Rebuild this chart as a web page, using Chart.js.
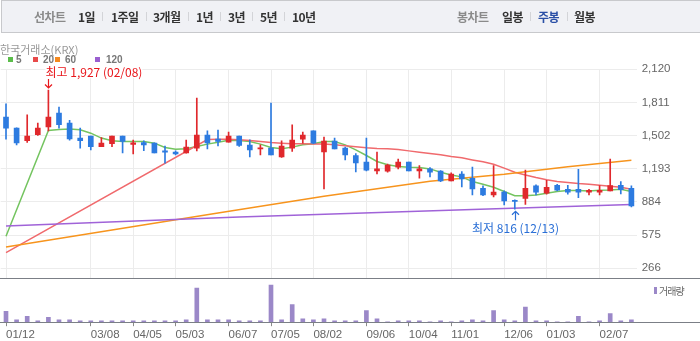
<!DOCTYPE html>
<html><head><meta charset="utf-8">
<script src="https://cdn.jsdelivr.net/npm/chart.js@4.4.0/dist/chart.umd.min.js"></script>
<style>
html,body{margin:0;padding:0;background:#fff;}
body{width:700px;height:341px;position:relative;overflow:hidden;font-family:"Noto Sans CJK KR","Noto Sans",sans-serif;}
#bar{position:absolute;left:1px;top:0;width:699px;height:31px;border:1px solid #c8c9cc;border-right:none;background:#f0f1f5;}
.t{position:absolute;top:0;height:33px;line-height:33px;font-size:12px;font-weight:bold;color:#333;white-space:nowrap;letter-spacing:-0.6px;z-index:3}
.g{color:#8a8a8a}
.b{color:#2a4fa6}
.s{position:absolute;top:12px;width:1px;height:9px;background:#d3d4d8;z-index:3}
#hdr{position:absolute;left:0;top:41px;font-size:11px;line-height:16px;color:#999;z-index:3;white-space:nowrap}
.lg{position:absolute;top:57px;width:5px;height:5px;z-index:3}
.lt{position:absolute;top:53px;line-height:13px;font-family:"Liberation Sans",sans-serif;font-size:10px;font-weight:bold;color:#777;z-index:3}
#pw{position:absolute;left:0;top:0;width:700px;height:280px;z-index:1}
#vw{position:absolute;left:0;top:283px;width:700px;height:61px;z-index:1}
#vl{position:absolute;left:654px;top:287px;width:3px;height:7px;background:#9b88c8;z-index:3}
#vt{position:absolute;left:659px;top:283px;line-height:16px;font-size:10px;color:#666;letter-spacing:-1px;z-index:3}
</style></head>
<body>
<div id="bar"></div>
<div class="t g" style="left:34px">선차트</div>
<div class="t" style="left:78px">1일</div><div class="s" style="left:102px"></div>
<div class="t" style="left:111px">1주일</div><div class="s" style="left:146px"></div>
<div class="t" style="left:153px">3개월</div><div class="s" style="left:188px"></div>
<div class="t" style="left:196px">1년</div><div class="s" style="left:220px"></div>
<div class="t" style="left:228px">3년</div><div class="s" style="left:252px"></div>
<div class="t" style="left:260px">5년</div><div class="s" style="left:284px"></div>
<div class="t" style="left:292px">10년</div>
<div class="t g" style="left:457px">봉차트</div>
<div class="t" style="left:502px">일봉</div><div class="s" style="left:530px"></div>
<div class="t b" style="left:538px">주봉</div><div class="s" style="left:567px"></div>
<div class="t" style="left:574px">월봉</div>
<div id="hdr">한국거래소(KRX)</div>
<div class="lg" style="left:8px;background:#5bbd4a"></div><div class="lt" style="left:16px">5</div>
<div class="lg" style="left:33px;background:#e84a4a"></div><div class="lt" style="left:43px">20</div>
<div class="lg" style="left:55px;background:#f5891f"></div><div class="lt" style="left:65px">60</div>
<div class="lg" style="left:95px;background:#9a5fd0"></div><div class="lt" style="left:106px">120</div>
<div id="pw"><canvas id="pc" width="700" height="280"></canvas></div>
<div id="vw"><canvas id="vc" width="700" height="61"></canvas></div>
<div id="vl"></div><div id="vt">거래량</div>
<script>
const weeks = ["01/12","01/18","01/25","02/01","02/08","02/15","02/22","03/01","03/08","03/15","03/22","03/29","04/05","04/12","04/19","04/26","05/03","05/10","05/17","05/24","05/31","06/07","06/14","06/21","06/28","07/05","07/12","07/19","07/26","08/02","08/09","08/16","08/23","08/30","09/06","09/13","09/20","09/27","10/04","10/11","10/18","10/25","11/01","11/08","11/15","11/22","11/29","12/06","12/13","12/20","12/27","01/03","01/10","01/17","01/24","01/31","02/07","02/14","02/21","02/28"];
const tickLabels = ["01/12","03/08","04/05","05/03","06/07","07/05","08/02","09/06","10/04","11/01","12/06","01/03","02/07"];
const priceTicks = [266, 575, 884, 1193, 1502, 1811, 2120];

const opens  = [1675,1572,1454,1510,1584,1712,1619,1479,1497,1398,1426,1497,1419,1438,1432,1360,1348,1342,1385,1507,1469,1441,1497,1413,1379,1385,1304,1385,1469,1547,1351,1451,1385,1317,1255,1174,1171,1208,1255,1174,1192,1171,1080,1143,1105,1012,950,975,897,918,1034,965,1040,1002,1002,975,975,987,1040,1012];
const highs  = [1799,1575,1696,1619,1927,1768,1644,1572,1497,1485,1497,1497,1460,1454,1435,1404,1360,1460,1852,1547,1553,1535,1497,1463,1416,1805,1454,1603,1535,1547,1488,1479,1395,1335,1479,1348,1236,1283,1255,1223,1205,1177,1155,1167,1208,1034,1223,987,903,1180,1043,1086,1049,1040,1189,1002,1037,1283,1074,1034];
const lows   = [1469,1416,1438,1503,1547,1572,1460,1385,1370,1398,1398,1342,1332,1363,1342,1245,1323,1339,1360,1379,1407,1441,1401,1304,1323,1323,1298,1354,1432,1426,1006,1379,1276,1164,1174,1146,1161,1192,1174,1105,1118,1074,1080,1024,950,943,931,856,816,862,950,956,987,956,925,950,950,987,959,837];
const closes = [1572,1435,1497,1572,1675,1603,1472,1454,1398,1432,1497,1447,1435,1416,1342,1348,1332,1395,1507,1435,1447,1497,1410,1370,1385,1323,1404,1460,1507,1432,1451,1379,1323,1248,1180,1192,1227,1255,1174,1192,1161,1080,1143,1099,1006,950,975,894,890,1012,975,1021,993,975,975,993,993,1037,999,847];
const volume = [107,23,57,13,47,23,23,13,13,13,13,13,13,13,13,13,13,23,333,23,23,23,13,13,13,363,23,173,33,23,33,13,13,13,113,33,3,13,13,13,3,13,3,13,23,13,113,23,13,147,13,13,3,3,57,3,13,83,13,23];

const N = null;
const ma5   = [564,N,N,N,1550,1560,1563,1556,1525,1479,1454,1447,1447,1447,1432,1391,1376,1379,1401,1423,1441,1460,1457,1447,1423,1391,1379,1395,1416,1426,1447,1447,1416,1370,1317,1261,1230,1214,1208,1205,1192,1161,1136,1118,1074,1049,1021,981,943,943,950,965,981,990,990,987,993,996,1002,981];
const ma20  = [412,N,N,N,N,N,N,N,N,N,N,N,N,N,N,N,N,N,N,1466,1469,1469,1463,1457,1447,1438,1432,1426,1426,1423,1423,1416,1407,1398,1388,1382,1379,1373,1360,1348,1335,1323,1307,1295,1276,1258,1236,1199,1161,1136,1111,1090,1074,1065,1055,1049,1040,1031,1021,1002];
const ma60  = [464,N,N,N,N,N,N,N,N,N,623,N,N,N,N,N,N,N,N,N,781,N,N,N,N,N,N,N,N,N,937,N,N,N,N,N,N,N,N,N,1077,N,N,N,N,N,N,1143,N,N,N,N,N,1213,N,N,N,N,N,1273];
const ma120 = [660,N,N,N,N,N,N,N,N,N,N,N,N,N,N,N,N,N,N,N,N,N,744,N,N,N,N,N,N,N,N,N,N,N,N,N,N,N,N,N,N,N,N,N,813,N,N,N,N,N,N,N,N,N,N,N,N,N,N,860];

const UP = '#e0282c', DOWN = '#2d7be0', GRID = '#ececec';
const tickIdx = new Set(tickLabels.map(l => weeks.indexOf(l)));
const candleColors = opens.map((o, i) => closes[i] >= o ? UP : DOWN);
const fmt = v => Number(v).toLocaleString('en-US');

function fullLine(chart, color) {
  const {ctx, chartArea} = chart;
  const y = Math.round(chartArea.bottom) + 0.5;
  ctx.save();
  ctx.strokeStyle = color; ctx.lineWidth = 1;
  ctx.beginPath(); ctx.moveTo(0, y); ctx.lineTo(chart.width, y); ctx.stroke();
  ctx.restore();
}

const extremes = {
  id: 'extremes',
  afterDatasetsDraw(chart) {
    const {ctx, scales: {x, y}} = chart;
    let hi = 0, lo = 0;
    highs.forEach((v, i) => { if (v > highs[hi]) hi = i; });
    lows.forEach((v, i) => { if (v < lows[lo]) lo = i; });
    ctx.save();
    ctx.font = '12px "Noto Sans CJK KR"';
    ctx.textBaseline = 'middle';
    ctx.lineWidth = 1.2;
    let px = Math.round(x.getPixelForValue(hi)) + 0.5, py = y.getPixelForValue(highs[hi]);
    ctx.strokeStyle = ctx.fillStyle = '#e8161b';
    ctx.beginPath();
    ctx.moveTo(px, py - 11); ctx.lineTo(px, py - 2);
    ctx.moveTo(px - 3.5, py - 5.5); ctx.lineTo(px, py - 2); ctx.lineTo(px + 3.5, py - 5.5);
    ctx.stroke();
    let txt = '최고 ' + fmt(highs[hi]) + ' (' + weeks[hi] + ')';
    let w = ctx.measureText(txt).width;
    ctx.fillStyle = '#fff'; ctx.fillRect(px - 3, py - 24, w, 12);
    ctx.fillStyle = '#e8161b';
    ctx.textAlign = 'left';
    ctx.fillText(txt, px - 3, py - 18);
    px = Math.round(x.getPixelForValue(lo)) + 0.5; py = y.getPixelForValue(lows[lo]);
    ctx.strokeStyle = ctx.fillStyle = '#2a6fd6';
    ctx.beginPath();
    ctx.moveTo(px, py + 11); ctx.lineTo(px, py + 2);
    ctx.moveTo(px - 3.5, py + 5.5); ctx.lineTo(px, py + 2); ctx.lineTo(px + 3.5, py + 5.5);
    ctx.stroke();
    txt = '최저 ' + fmt(lows[lo]) + ' (' + weeks[lo] + ')';
    ctx.textAlign = 'center';
    ctx.fillText(txt, px, py + 19);
    ctx.restore();
  },
  afterDraw(chart) { fullLine(chart, '#7b7f86'); }
};

const baseLine = { id: 'baseLine', afterDraw(chart) { fullLine(chart, '#7b7f86'); } };

const lineDs = (data, color) => ({type: 'line', data, borderColor: color, borderWidth: 1.5, pointRadius: 0, tension: 0, spanGaps: true, order: 5});

new Chart(document.getElementById('pc'), {
  type: 'bar',
  data: {
    labels: weeks,
    datasets: [
      lineDs(ma120, '#a063d8'),
      lineDs(ma60, '#f7941d'),
      lineDs(ma20, '#f06a6d'),
      lineDs(ma5, '#74c460'),
      {data: lows.map((l, i) => [l, highs[i]]), backgroundColor: candleColors, barThickness: 1, grouped: false, order: 2},
      {data: opens.map((o, i) => [o, closes[i]]), backgroundColor: candleColors, barThickness: 5, minBarLength: 1, grouped: false, order: 1}
    ]
  },
  options: {
    responsive: false, animation: false, devicePixelRatio: 1,
    layout: {padding: {left: 0.7, top: 69.3, right: 0, bottom: 1.7}},
    plugins: {legend: {display: false}, tooltip: {enabled: false}},
    scales: {
      x: {offset: true, grid: {offset: false, drawTicks: false, color: c => tickIdx.has(c.index) ? GRID : 'rgba(0,0,0,0)'},
          border: {display: false}, ticks: {display: false, autoSkip: false}},
      y: {position: 'right', min: 172.8, max: 2120,
          afterBuildTicks: a => { a.ticks = priceTicks.map(v => ({value: v})); },
          afterFit: a => { a.width = 63.3; a.paddingTop = 0; a.paddingBottom = 0; },
          grid: {color: GRID, drawTicks: false}, border: {display: false},
          ticks: {padding: 5, color: '#666', font: {family: 'Liberation Sans', size: 11.5}, callback: v => fmt(v)}}
    }
  },
  plugins: [extremes]
});

new Chart(document.getElementById('vc'), {
  type: 'bar',
  data: {labels: weeks, datasets: [{data: volume, backgroundColor: '#9b88c8', barThickness: 4}]},
  options: {
    responsive: false, animation: false, devicePixelRatio: 1,
    layout: {padding: {left: 0.7, right: 63.3, top: 0, bottom: 0}},
    plugins: {legend: {display: false}, tooltip: {enabled: false}},
    scales: {
      x: {offset: true,
          grid: {offset: false, drawOnChartArea: false, drawTicks: true, tickLength: 4,
                 tickColor: c => tickIdx.has(c.index) ? '#8a8a8a' : 'rgba(0,0,0,0)'},
          border: {display: false},
          ticks: {autoSkip: false, maxRotation: 0, align: 'start', padding: 2, color: '#666',
                  font: {family: 'Liberation Sans', size: 11.5},
                  callback: (v, i) => tickIdx.has(i) ? weeks[i] : ''}},
      y: {display: false, min: 0, max: 383}
    }
  },
  plugins: [baseLine]
});
</script>
</body></html>
